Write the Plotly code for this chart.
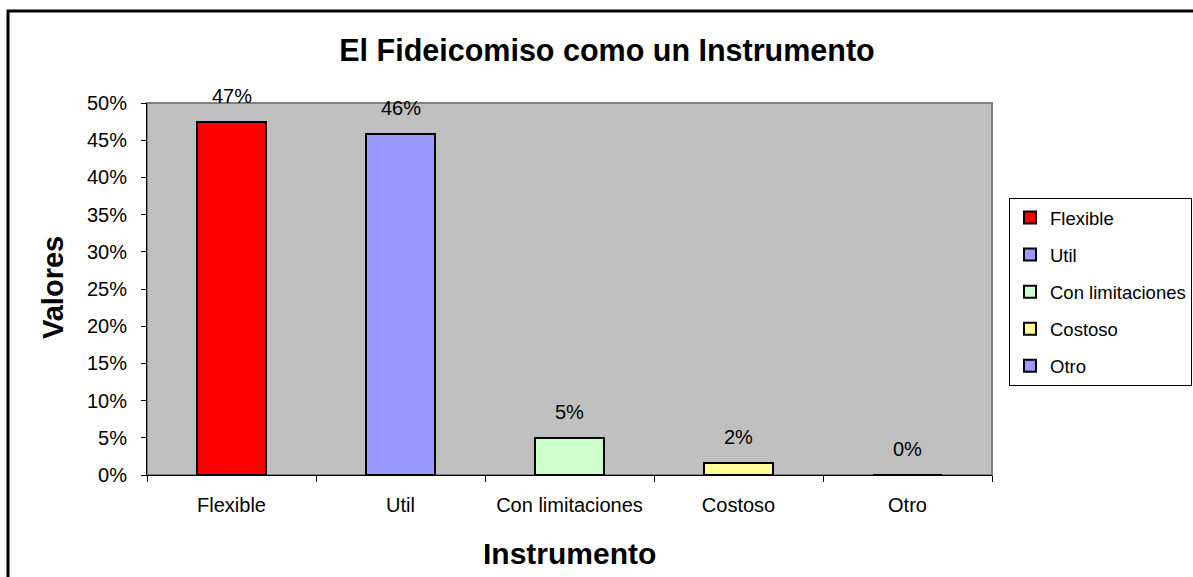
import plotly.graph_objects as go

# Survey results: how respondents describe the trust (fideicomiso) as an instrument
categories = ["Flexible", "Util", "Con limitaciones", "Costoso", "Otro"]
values = [0.474, 0.458, 0.050, 0.016, 0.0]
colors = ["#FF0000", "#9999FF", "#CCFFCC", "#FFFF99", "#9999FF"]
y_ticks = [0.0, 0.05, 0.10, 0.15, 0.20, 0.25, 0.30, 0.35, 0.40, 0.45, 0.50]

FONT = "Liberation Sans, Arial, sans-serif"
W, H = 1193, 577
ML, MR, MT, MB = 147, 201, 103, 102
PW, PH = W - ML - MR, H - MT - MB


def px_x(px):
    return (px - ML) / PW


def px_y(py):
    return (H - MB - py) / PH


fig = go.Figure()
for i, (cat, val, col) in enumerate(zip(categories, values, colors)):
    fig.add_trace(go.Bar(
        x=[cat], y=[val], name=cat,
        marker=dict(color=col, line=dict(color="#000000", width=2)),
        width=0.41, legendgroup=f"g{i}",
    ))

# value labels above each bar
for cat, val in zip(categories, values):
    fig.add_annotation(
        x=cat, y=val, xref="x", yref="y",
        text=f"{round(val * 100):.0f}%", showarrow=False,
        yanchor="middle", yshift=26,
        font=dict(family=FONT, size=20, color="#000000"),
    )

# axis titles
fig.add_annotation(
    x=px_x(569), y=px_y(553), xref="paper", yref="paper",
    text="<b>Instrumento</b>", showarrow=False,
    xanchor="center", yanchor="middle",
    font=dict(family=FONT, size=30, color="#000000"),
)
fig.add_annotation(
    x=px_x(53), y=px_y(288), xref="paper", yref="paper",
    text="<b>Valores</b>", showarrow=False, textangle=-90,
    xanchor="center", yanchor="middle",
    font=dict(family=FONT, size=29, color="#000000"),
)

# outer chart frame
fig.add_shape(
    type="rect", xref="paper", yref="paper",
    x0=px_x(8), x1=px_x(1240), y0=px_y(620), y1=px_y(11),
    line=dict(color="#000000", width=3), fillcolor="rgba(0,0,0,0)",
    layer="below",
)
# plot area border
fig.add_shape(
    type="rect", xref="paper", yref="paper",
    x0=0, x1=1, y0=0, y1=1,
    line=dict(color="#808080", width=2), fillcolor="rgba(0,0,0,0)",
    layer="below",
)

fig.update_layout(
    width=W, height=H,
    margin=dict(l=ML, r=MR, t=MT, b=MB, autoexpand=False),
    paper_bgcolor="#FFFFFF", plot_bgcolor="#C0C0C0",
    barmode="overlay", bargap=0,
    title=dict(
        text="<b>El Fideicomiso como un Instrumento</b>",
        x=px_x(607), xref="paper", xanchor="center",
        y=1 - 50 / H, yref="container", yanchor="middle",
        font=dict(family=FONT, size=30.5, color="#000000"),
    ),
    legend=dict(
        x=px_x(1009), y=px_y(198), xanchor="left", yanchor="top",
        bgcolor="#FFFFFF", bordercolor="#000000", borderwidth=1,
        font=dict(family=FONT, size=18.5, color="#000000"),
        tracegroupgap=10, itemwidth=30,
    ),
    showlegend=True,
)

fig.update_xaxes(
    type="category", categoryorder="array", categoryarray=categories,
    tickson="boundaries", ticks="outside", ticklen=6, tickwidth=1,
    tickcolor="#000000", showline=True, linecolor="#000000", linewidth=1,
    showgrid=False, ticklabelstandoff=12,
    tickfont=dict(family=FONT, size=20, color="#000000"),
)
fig.update_yaxes(
    range=[0, 0.5], tickvals=y_ticks, tickformat=".0%",
    ticks="outside", ticklen=5, tickwidth=1, tickcolor="#000000",
    showline=True, linecolor="#000000", linewidth=1,
    showgrid=False, zeroline=False, ticklabelstandoff=10,
    tickfont=dict(family=FONT, size=20, color="#000000"),
)

fig.write_html("out.html")
